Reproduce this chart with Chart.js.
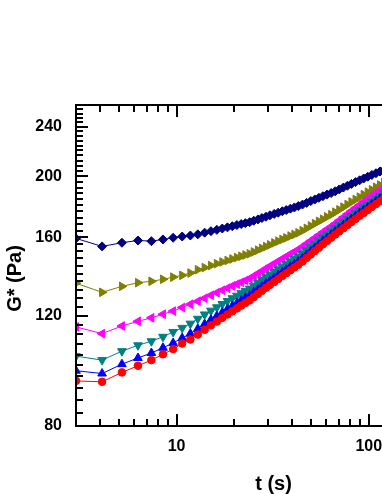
<!DOCTYPE html>
<html>
<head>
<meta charset="utf-8">
<script src="https://cdn.jsdelivr.net/npm/chart.js@4.4.1/dist/chart.umd.min.js"></script>
<style>
  html, body { margin: 0; padding: 0; background: #fff; overflow: hidden; }
  #chart { display: block; width: 382px; height: 494px; }
</style>
</head>
<body>
<canvas id="chart" width="382" height="494"></canvas>
<script>
// time (s)
var times = [3, 4.1, 5.2, 6.3, 7.4, 8.5, 9.6, 10.7, 11.8, 12.9,
    14, 15.1, 16.2, 17.3, 18.4, 19.5, 20.6, 21.7, 22.8,
    24, 25.2, 26.5, 27.8, 29.2, 30.6, 32.2, 33.8, 35.5, 37.2, 39.1, 41, 43,
    45.2, 47.5, 49.9, 52.4, 55, 57.7, 60.6, 63.7,
    66.8, 70.2, 73.7, 77.4, 81.2, 85.3, 89.6, 94, 98.7, 103.7, 108.9, 114.3, 120];

// G* (Pa) for each sample
var gRed = [94.4, 94.1, 97.4, 99.8, 101.9, 104.1, 106.1, 108.3, 109.9, 111.9,
    113.9, 115.8, 117.4, 119.0, 120.5, 121.9, 123.2, 124.5, 125.7,
    126.9, 128.4, 129.9, 131.4, 132.9, 134.3, 135.8, 137.3, 138.8, 140.2, 141.7, 143.2, 144.6,
    146.4, 148.3, 150.2, 152.1, 154.0, 155.9, 157.8, 159.7,
    161.6, 163.5, 165.4, 167.3, 169.2, 171.1, 173.1, 174.9, 176.8, 178.8, 180.7, 182.6, 184.5];
var gBlue = [98.0, 97.0, 100.4, 102.7, 104.6, 106.6, 108.5, 110.5, 112.3, 114.3,
    116.3, 118.2, 119.8, 121.4, 122.9, 124.3, 125.6, 126.9, 128.1,
    129.3, 130.7, 132.1, 133.5, 135.0, 136.3, 137.8, 139.2, 140.7, 142.0, 143.5, 144.9, 146.3,
    148.1, 150.0, 151.9, 153.8, 155.7, 157.6, 159.5, 161.4,
    163.3, 165.2, 167.1, 169.0, 170.9, 172.8, 174.8, 176.6, 178.5, 180.5, 182.4, 184.3, 186.2];
var gTeal = [103.4, 101.9, 105.3, 107.6, 109.2, 111.0, 113.0, 114.7, 116.5, 118.6,
    120.5, 122.2, 123.7, 125.2, 126.6, 127.9, 129.1, 130.3, 131.4,
    132.5, 133.9, 135.3, 136.7, 138.1, 139.4, 140.8, 142.2, 143.6, 144.9, 146.4, 147.8, 149.1,
    150.8, 152.6, 154.4, 156.2, 158.0, 159.9, 161.7, 163.5,
    165.4, 167.3, 169.2, 171.0, 172.9, 174.8, 176.8, 178.6, 180.4, 182.4, 184.3, 186.2, 188.1];
var gMagenta = [115.1, 112.3, 115.5, 117.5, 119.0, 120.6, 122.0, 123.6, 125.1, 126.5,
    127.9, 129.3, 130.5, 131.7, 132.7, 133.8, 134.7, 135.6, 136.5,
    137.4, 138.7, 140.0, 141.3, 142.6, 143.9, 145.2, 146.5, 147.8, 149.1, 150.4, 151.7, 152.9,
    154.5, 156.2, 157.9, 159.6, 161.3, 163.0, 164.7, 166.4,
    168.2, 170.2, 172.2, 174.2, 176.2, 178.2, 180.2, 182.2, 184.2, 186.2, 188.2, 190.2, 192.1];
var gOlive = [135.1, 130.7, 133.6, 135.4, 136.1, 137.1, 138.2, 139.1, 140.3, 142.0,
    143.1, 144.2, 145.2, 146.1, 146.9, 147.7, 148.5, 149.2, 149.9,
    150.6, 151.6, 152.6, 153.6, 154.6, 155.6, 156.7, 157.7, 158.7, 159.6, 160.7, 161.6, 162.6,
    163.9, 165.3, 166.8, 168.2, 169.6, 170.9, 172.4, 173.8,
    175.4, 177.0, 178.7, 180.4, 182.1, 183.8, 185.4, 187.1, 188.8, 190.5, 192.2, 193.8, 195.5];
var gNavy = [159.3, 154.7, 156.8, 158.1, 157.7, 158.7, 159.7, 160.4, 161.0, 161.7,
    162.7, 163.6, 164.4, 165.2, 165.9, 166.6, 167.3, 167.9, 168.5,
    169.1, 170.0, 170.8, 171.7, 172.5, 173.4, 174.3, 175.1, 176.0, 176.8, 177.7, 178.5, 179.4,
    180.4, 181.5, 182.7, 183.8, 184.9, 186.0, 187.1, 188.2,
    189.4, 190.7, 192.0, 193.3, 194.6, 195.9, 197.2, 198.5, 199.8, 201.1, 202.4, 203.7, 204.9];

// axis ticks
var xMajorTicks = [10, 100];
var xMinorTicks = [4, 5, 6, 7, 8, 9, 20, 30, 40, 50, 60, 70, 80, 90];
var yMajorTicks = [80, 120, 160, 200, 240];
var yMinorTicks = [84, 88, 92, 96, 100, 104, 108, 112, 116,
    124, 128, 132, 136, 140, 144, 148, 152, 156,
    164, 168, 172, 176, 180, 184, 188, 192, 196,
    204, 208, 212, 216, 220, 224, 228, 232, 236,
    244, 248, 252, 256];

function toPoints(values) {
    return values.map(function (v, i) { return { x: times[i], y: v }; });
}

function series(values, color, style, rotation, radius) {
    return {
        data: toPoints(values),
        borderColor: color,
        backgroundColor: color,
        borderWidth: 1,
        pointStyle: style,
        rotation: rotation,
        pointRadius: radius,
        pointBorderWidth: 1,
        pointBorderColor: color,
        pointBackgroundColor: color
    };
}

// frame (left, bottom, top; the right side is cut off), inward ticks, axis titles
var framePlugin = {
    id: 'frame',
    afterDatasetsDraw: function (chart) {
        var ctx = chart.ctx;
        var a = chart.chartArea;
        var xs = chart.scales.x, ys = chart.scales.y;
        ctx.save();
        ctx.fillStyle = '#000';
        ctx.fillRect(a.left - 1, a.top - 1, 2, a.bottom - a.top + 2);
        ctx.fillRect(a.left - 1, a.bottom - 1, chart.width, 2);
        ctx.fillRect(a.left - 1, a.top - 1, chart.width, 2);

        function xTick(v, len) {
            var px = Math.round(xs.getPixelForValue(v));
            ctx.fillRect(px - 1, a.bottom - 1 - len, 2, len);
            ctx.fillRect(px - 1, a.top + 1, 2, len);
        }
        function yTick(v, len) {
            var py = Math.round(ys.getPixelForValue(v));
            ctx.fillRect(a.left + 1, py - 1, len, 2);
        }
        xMinorTicks.forEach(function (v) { xTick(v, 6); });
        xMajorTicks.forEach(function (v) { xTick(v, 11); });
        yMinorTicks.forEach(function (v) { yTick(v, 6); });
        yMajorTicks.forEach(function (v) { yTick(v, 11); });

        ctx.font = 'bold 20px "Liberation Sans", Arial, sans-serif';
        ctx.textAlign = 'center';
        ctx.textBaseline = 'middle';
        ctx.fillText('t (s)', 273.5, 484);
        ctx.translate(15, 278.5);
        ctx.rotate(-Math.PI / 2);
        ctx.fillText('G* (Pa)', 0, 0);
        ctx.restore();
    }
};

function noPad(scale) {
    scale.paddingLeft = 0;
    scale.paddingRight = 0;
    scale.paddingTop = 0;
    scale.paddingBottom = 0;
}

var tickFont = { family: '"Liberation Sans", Arial, sans-serif', size: 16, weight: 'bold' };

new Chart(document.getElementById('chart'), {
    type: 'line',
    data: {
        datasets: [
            series(gRed, '#FF0000', 'circle', 0, 3.8),
            series(gBlue, '#0000FF', 'triangle', 0, 5),
            series(gTeal, '#008080', 'triangle', 180, 5),
            series(gMagenta, '#FF00FF', 'triangle', -90, 5),
            series(gOlive, '#808000', 'triangle', 90, 5),
            series(gNavy, '#000080', 'rectRot', 0, 4.5)
        ]
    },
    options: {
        responsive: false,
        animation: false,
        devicePixelRatio: 1,
        layout: { autoPadding: false, padding: { top: 105, right: 0, left: 0, bottom: 0 } },
        plugins: { legend: { display: false }, tooltip: { enabled: false } },
        scales: {
            x: {
                type: 'logarithmic',
                min: 3,
                max: 117.1,
                bounds: 'data',
                grid: { display: false, drawTicks: false },
                border: { display: false },
                ticks: {
                    color: '#000',
                    font: tickFont,
                    padding: 11,
                    maxRotation: 0,
                    autoSkip: false,
                    callback: function (v) { return String(v); }
                },
                afterBuildTicks: function (scale) {
                    scale.ticks = xMajorTicks.map(function (v) { return { value: v }; });
                },
                afterFit: function (scale) { scale.height = 68; noPad(scale); }
            },
            y: {
                type: 'logarithmic',
                min: 80,
                max: 260,
                bounds: 'data',
                grid: { display: false, drawTicks: false },
                border: { display: false },
                ticks: {
                    color: '#000',
                    font: tickFont,
                    padding: 14,
                    autoSkip: false,
                    callback: function (v) { return String(v); }
                },
                afterBuildTicks: function (scale) {
                    scale.ticks = yMajorTicks.map(function (v) { return { value: v }; });
                },
                afterFit: function (scale) { scale.width = 76; noPad(scale); }
            }
        }
    },
    plugins: [framePlugin]
});
</script>
</body>
</html>
